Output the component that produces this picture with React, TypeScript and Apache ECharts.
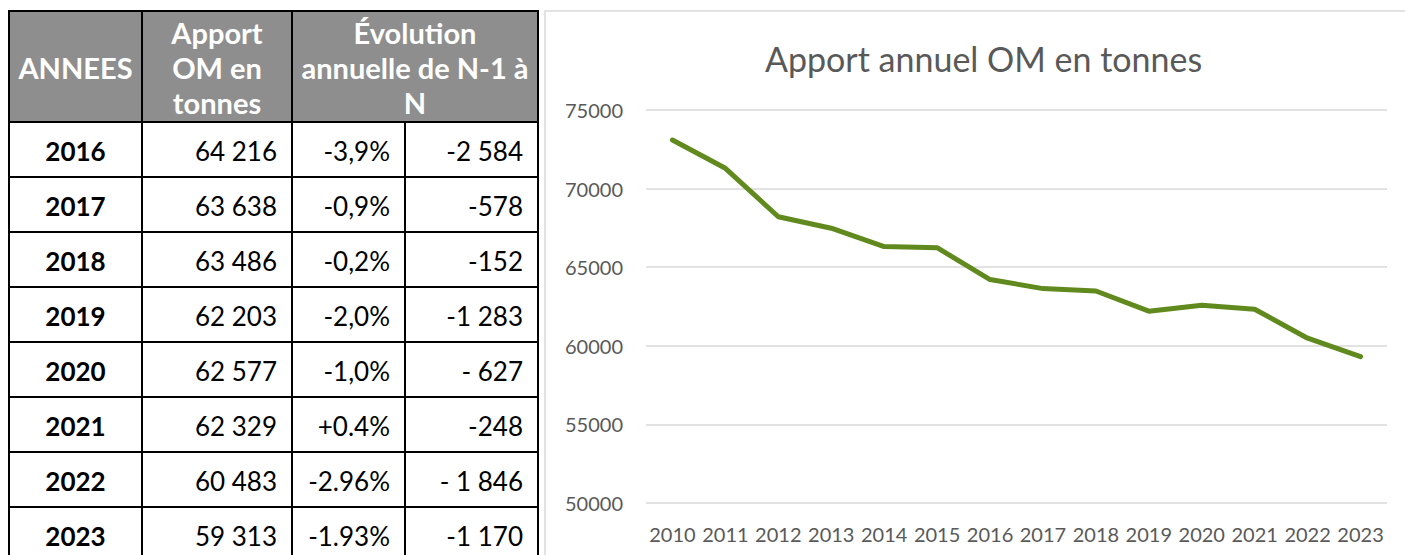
import { useEffect, useRef } from 'react';
import * as echarts from 'echarts';

const chartYears = ['2010', '2011', '2012', '2013', '2014', '2015', '2016', '2017', '2018', '2019', '2020', '2021', '2022', '2023'];
const chartValues = [73090, 71290, 68210, 67480, 66310, 66240, 64216, 63638, 63486, 62203, 62577, 62329, 60483, 59313];
const yTicks = { min: 50000, max: 75000, interval: 5000 };
const chartTitle = 'Apport annuel OM en tonnes';

const headerLabels = ['ANNEES', 'Apport\nOM en\ntonnes', 'Évolution\nannuelle de N-1 à\nN'];
const tableYears = ['2016', '2017', '2018', '2019', '2020', '2021', '2022', '2023'];
const tableTonnes = ['64 216', '63 638', '63 486', '62 203', '62 577', '62 329', '60 483', '59 313'];
const tablePct = ['-3,9%', '-0,9%', '-0,2%', '-2,0%', '-1,0%', '+0.4%', '-2.96%', '-1.93%'];
const tableDiff = ['-2 584', '-578', '-152', '-1 283', '- 627', '-248', '- 1 846', '-1 170'];

const FONT = 'Lato, "Open Sans", sans-serif';
const colX = [9, 142, 292, 405, 538];
const headTop = 11;
const headBottom = 122;
const rowH = 55;
const cellPad = 15;

function buildTable(): any[] {
  const els: any[] = [];
  const tableBottom = headBottom + rowH * tableYears.length;
  els.push({
    type: 'rect',
    shape: { x: colX[0], y: headTop, width: colX[4] - colX[0], height: headBottom - headTop },
    style: { fill: '#8e8e8e' },
  });
  const hY = [headTop, headBottom];
  for (let i = 1; i <= tableYears.length; i++) hY.push(headBottom + rowH * i);
  hY.forEach((y) => {
    els.push({ type: 'line', shape: { x1: colX[0] - 1, y1: y, x2: colX[4] + 1, y2: y }, style: { stroke: '#000', lineWidth: 2 } });
  });
  colX.forEach((x, i) => {
    const y1 = i === 3 ? headBottom : headTop;
    els.push({ type: 'line', shape: { x1: x, y1, x2: x, y2: tableBottom }, style: { stroke: '#000', lineWidth: 2 } });
  });
  const headerCenters = [(colX[0] + colX[1]) / 2, (colX[1] + colX[2]) / 2, (colX[2] + colX[4]) / 2];
  headerLabels.forEach((t, i) => {
    els.push({
      type: 'text',
      style: {
        text: t, x: headerCenters[i], y: (headTop + headBottom) / 2 + 1,
        fill: '#ffffff', font: `bold 29px ${FONT}`, textAlign: 'center', textVerticalAlign: 'middle', lineHeight: 35,
      },
    });
  });
  tableYears.forEach((yr, r) => {
    const cy = headBottom + rowH * r + rowH / 2 + 1;
    els.push({ type: 'text', style: { text: yr, x: (colX[0] + colX[1]) / 2, y: cy, fill: '#000', font: `bold 26px ${FONT}`, textAlign: 'center', textVerticalAlign: 'middle' } });
    els.push({ type: 'text', style: { text: tableTonnes[r], x: colX[2] - cellPad, y: cy, fill: '#000', font: `26px ${FONT}`, textAlign: 'right', textVerticalAlign: 'middle' } });
    els.push({ type: 'text', style: { text: tablePct[r], x: colX[3] - cellPad, y: cy, fill: '#000', font: `26px ${FONT}`, textAlign: 'right', textVerticalAlign: 'middle' } });
    els.push({ type: 'text', style: { text: tableDiff[r], x: colX[4] - cellPad, y: cy, fill: '#000', font: `26px ${FONT}`, textAlign: 'right', textVerticalAlign: 'middle' } });
  });
  return els;
}

export default function App() {
  const ref = useRef<HTMLDivElement>(null);
  useEffect(() => {
    if (!ref.current) return;
    const chart = echarts.init(ref.current, null, { renderer: 'svg' });
    chart.setOption({
      animation: false,
      backgroundColor: '#ffffff',
      title: {
        text: chartTitle,
        left: 760,
        top: 36,
        textStyle: { fontFamily: FONT, fontSize: 34, fontWeight: 'normal', color: '#595959' },
      },
      grid: { left: 646, right: 18, top: 110, bottom: 52 },
      xAxis: {
        type: 'category',
        data: chartYears,
        boundaryGap: true,
        axisLine: { show: false },
        axisTick: { show: false },
        axisLabel: { color: '#595959', fontFamily: FONT, fontSize: 20, margin: 21, interval: 0 },
      },
      yAxis: {
        type: 'value',
        min: yTicks.min,
        max: yTicks.max,
        interval: yTicks.interval,
        axisLine: { show: false },
        axisTick: { show: false },
        axisLabel: { color: '#595959', fontFamily: FONT, fontSize: 20, margin: 23, formatter: (v: number) => String(v) },
        splitLine: { lineStyle: { color: '#d9d9d9', width: 1.5 } },
      },
      series: [
        {
          type: 'line',
          data: chartValues,
          symbol: 'none',
          lineStyle: { color: '#618a1e', width: 5, cap: 'round', join: 'round' },
        },
      ],
      graphic: [
        {
          type: 'rect',
          z: -1,
          shape: { x: 545, y: 11, width: 880, height: 570 },
          style: { fill: 'none', stroke: '#d9d9d9', lineWidth: 1.5 },
        },
        ...buildTable(),
      ],
    });
    return () => chart.dispose();
  }, []);
  return <div ref={ref} style={{ position: 'fixed', left: 0, top: 0, width: 1405, height: 555 }} />;
}
